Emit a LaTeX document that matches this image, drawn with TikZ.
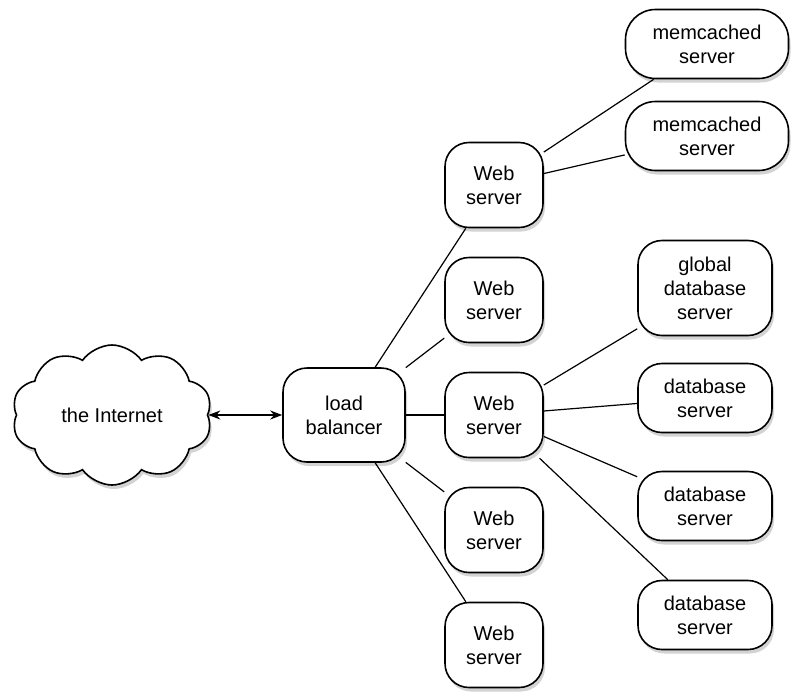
\documentclass[tikz,border=0pt]{standalone}
\usepackage{fontspec}
\setmainfont{Liberation Sans}
\usetikzlibrary{shapes.symbols,shadows,arrows.meta}
\begin{document}
\begin{tikzpicture}[
    x=0.5pt, y=-0.5pt,
    box/.style={rectangle, rounded corners=12pt, draw=black, line width=0.8pt, fill=white, align=center, font=\fontsize{10}{12}\selectfont, inner sep=2pt, drop shadow={opacity=0.35, shadow xshift=1pt, shadow yshift=-2pt}},
    webbox/.style={box, minimum width=49pt, minimum height=42.5pt},
    cachebox/.style={box, rounded corners=15pt, minimum width=81.5pt, minimum height=34.5pt},
    dbbox/.style={box, minimum width=67pt, minimum height=34.5pt},
    link/.style={line width=0.6pt}
]
\useasboundingbox (0,0) rectangle (792,691);

% Internet and load balancer
\node (internet) [cloud, cloud puffs=10, cloud puff arc=110, aspect=1.5, draw=black, line width=0.8pt, fill=white, minimum width=100pt, minimum height=70pt, font=\fontsize{10}{12}\selectfont, drop shadow={opacity=0.35, shadow xshift=1pt, shadow yshift=-2pt}] at (112,415) {the Internet};
\node (lb) [box, minimum width=61pt, minimum height=47pt] at (344,415) {load\\balancer};

% Web servers
\node (web1) [webbox] at (494,185) {Web\\server};
\node (web2) [webbox] at (494,300) {Web\\server};
\node (web3) [webbox] at (494,415) {Web\\server};
\node (web4) [webbox] at (494,530) {Web\\server};
\node (web5) [webbox] at (494,645) {Web\\server};

% Memcached servers
\node (cache1) [cachebox] at (707,44) {memcached\\server};
\node (cache2) [cachebox] at (707,136) {memcached\\server};

% Database servers
\node (gdb) [dbbox, minimum height=47.5pt] at (705,288) {global\\database\\server};
\node (db1) [dbbox] at (705,398) {database\\server};
\node (db2) [dbbox] at (705,506) {database\\server};
\node (db3) [dbbox] at (705,615) {database\\server};

% Connectors
\draw[line width=0.8pt, {Stealth[length=6pt]}-{Stealth[length=6pt]}] (internet) -- (lb);
\foreach \w in {web1,web2,web3,web4,web5}
  \draw[link] (lb) -- (\w);
\draw[link] (web1) -- (cache1);
\draw[link] (web1) -- (cache2);
\foreach \d in {gdb,db1,db2,db3}
  \draw[link] (web3) -- (\d);

\end{tikzpicture}
\end{document}
